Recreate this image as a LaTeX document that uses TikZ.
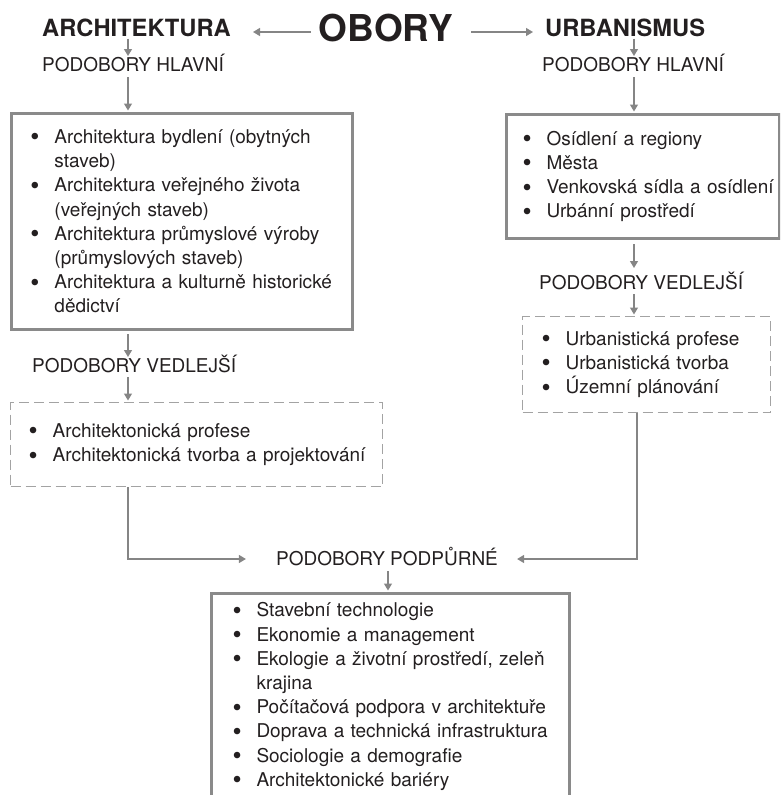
\documentclass[tikz,border=0pt]{standalone}
\usepackage{fontspec}
\setmainfont{TeX Gyre Heros}
\usepackage{tikz}
\usepackage{xcolor}
\usetikzlibrary{arrows.meta}
\definecolor{linegray}{HTML}{858585}
\definecolor{boxgray}{HTML}{8A8A8A}
\definecolor{dashgray}{HTML}{A3A3A3}
\definecolor{textdark}{HTML}{231F20}
\tikzstyle{obor}      = [inner sep=0pt, text height=26.8pt, text depth=0pt,
                         font=\fontsize{37}{44}\selectfont\bfseries, text=textdark]
\tikzstyle{hlava}     = [inner sep=0pt, text height=17pt, text depth=0pt,
                         font=\fontsize{23.7}{28}\selectfont\bfseries, text=textdark]
\tikzstyle{podnadpis} = [inner sep=0pt, text height=13.6pt, text depth=0pt,
                         font=\fontsize{19}{23}\selectfont, text=textdark]
\tikzstyle{obsah}     = [rectangle, draw=boxgray, line width=3pt, anchor=north west, align=left,
                         inner ysep=0pt, font=\fontsize{19}{24.2}\selectfont, text=textdark]
\tikzstyle{vedlejsi}  = [rectangle, draw=dashgray, line width=1.3pt, dash pattern=on 10pt off 5pt,
                         anchor=north west, align=left, inner ysep=0pt,
                         font=\fontsize{19}{24.2}\selectfont, text=textdark]
\tikzstyle{arrow}     = [-{Triangle[length=7pt,width=8pt]}, draw=linegray, line width=1.3pt]
\newcommand{\bod}[1]{\makebox[24pt][l]{\raisebox{-2.4pt}{\fontsize{26}{24}\selectfont\textbullet}}\mbox{#1}}
\newcommand{\dal}[1]{\hspace*{24pt}\mbox{#1}}

\begin{document}
\begin{tikzpicture}[x=1pt, y=-1pt]
    \useasboundingbox (0,0) rectangle (780,795);
    \clip (0,0) rectangle (780,795);

    \coordinate (colA) at (128,0);
    \coordinate (colU) at (634,0);
    \coordinate (colR) at (637,0);
    \coordinate (colP) at (388,0);

    % nadpisy
    \node (obory) [obor] at (386,28) {OBORY};
    \node (archi) [hlava, anchor=west] at (42,28) {ARCHITEKTURA};
    \node (urban) [hlava, anchor=west] at (545,28) {URBANISMUS};

    % architektura
    \node (hlA) [podnadpis, anchor=west] at (42,65) {PODOBORY HLAVNÍ};
    \node (boxA) [obsah, minimum width=341pt, minimum height=216pt, inner xsep=19pt, text width=303pt] at (10,112)
        {\bod{Architektura bydlení (obytných}\\ \dal{staveb)}\\
         \bod{Architektura veřejného života}\\ \dal{(veřejných staveb)}\\
         \bod{Architektura průmyslové výroby}\\ \dal{(průmyslových staveb)}\\
         \bod{Architektura a kulturně historické}\\ \dal{dědictví}};
    \node (vedA) [podnadpis, anchor=west] at (32,366) {PODOBORY VEDLEJŠÍ};
    \node (dashA) [vedlejsi, minimum width=372pt, minimum height=84pt, inner xsep=18pt, text width=336pt] at (10,402)
        {\bod{Architektonická profese}\\ \bod{Architektonická tvorba a projektování}};

    % urbanismus
    \node (hlU) [podnadpis, anchor=west] at (542,65) {PODOBORY HLAVNÍ};
    \node (boxU) [obsah, minimum width=273pt, minimum height=124pt, inner xsep=16pt, text width=241pt] at (505,113)
        {\bod{Osídlení a regiony}\\ \bod{Města}\\ \bod{Venkovská sídla a osídlení}\\ \bod{Urbánní prostředí}};
    \node (vedU) [podnadpis, anchor=west] at (539,283) {PODOBORY VEDLEJŠÍ};
    \node (dashU) [vedlejsi, minimum width=248pt, minimum height=96pt, inner xsep=19pt, text width=210pt] at (522,316)
        {\bod{Urbanistická profese}\\ \bod{Urbanistická tvorba}\\ \bod{Územní plánování}};

    % podpurne
    \node (podp) [podnadpis] at (387,559) {PODOBORY PODPŮRNÉ};
    \node (boxP) [obsah, minimum width=358pt, minimum height=206pt, inner xsep=21pt, text width=316pt] at (210,592)
        {\bod{Stavební technologie}\\ \bod{Ekonomie a management}\\
         \bod{Ekologie a životní prostředí, zeleň}\\ \dal{krajina}\\
         \bod{Počítačová podpora v architektuře}\\ \bod{Doprava a technická infrastruktura}\\
         \bod{Sociologie a demografie}\\ \bod{Architektonické bariéry}};

    \draw[arrow, shorten <=8pt, shorten >=22pt] ([yshift=-4pt]obory.west) -- ([yshift=-4pt]archi.east);
    \draw[arrow, shorten <=18pt, shorten >=12pt] ([yshift=-4pt]obory.east) -- ([yshift=-4pt]urban.west);

    \draw[arrow, shorten <=2pt, shorten >=2pt] (archi.south -| colA) -- (hlA.north -| colA);
    \draw[arrow, shorten <=5pt, shorten >=1.5pt] (hlA.south -| colA) -- (boxA.north -| colA);
    \draw[arrow, shorten <=3pt, shorten >=2pt] (boxA.south -| colA) -- (vedA.north -| colA);
    \draw[arrow, shorten <=4pt, shorten >=1.5pt] (vedA.south -| colA) -- (dashA.north -| colA);

    \draw[arrow, shorten <=2pt, shorten >=2pt] (urban.south -| colU) -- (hlU.north -| colU);
    \draw[arrow, shorten <=5pt, shorten >=1.5pt] (hlU.south -| colU) -- (boxU.north -| colU);
    \draw[arrow, shorten <=4pt, shorten >=8pt] (boxU.south -| colU) -- (vedU.north -| colU);
    \draw[arrow, shorten <=4pt, shorten >=1.5pt] (vedU.south -| colU) -- (dashU.north -| colU);

    \draw[arrow, shorten >=30pt] (dashA.south -| colA) |- (podp.west);
    \draw[arrow, shorten >=19pt] (dashU.south -| colR) |- (podp.east);
    \draw[arrow, shorten <=5pt, shorten >=1.5pt] (podp.south -| colP) -- (boxP.north -| colP);
\end{tikzpicture}
\end{document}
